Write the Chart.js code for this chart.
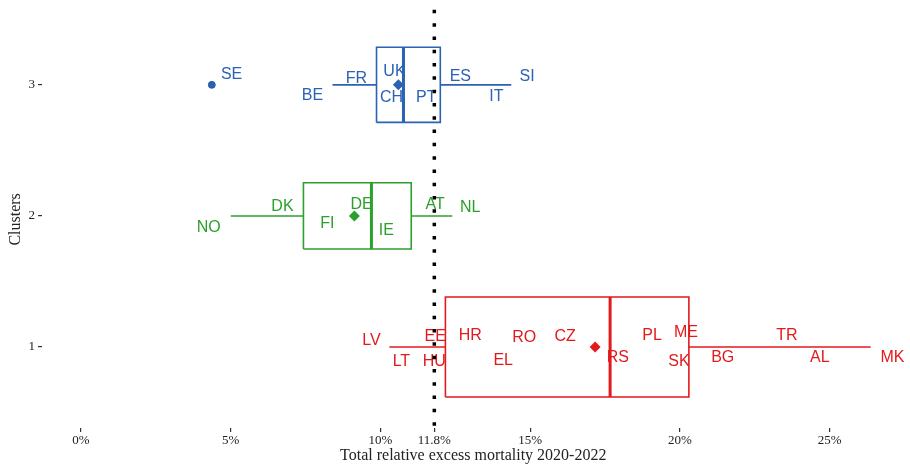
<!DOCTYPE html>
<html>
<head>
<meta charset="utf-8">
<script src="https://cdn.jsdelivr.net/npm/chart.js@4"></script>
<style>
  body { margin: 0; background: #fff; }
  #wrap { width: 910px; height: 466px; }
</style>
</head>
<body>
<div id="wrap"><canvas id="myChart"></canvas></div>
<script>
// box plot summary per cluster (values in %)
const clusters = [1, 2, 3];
const whiskerLow = [10.3, 5.0, 8.4];
const q1 = [12.17, 7.43, 9.87];
const median = [17.67, 9.7, 10.77];
const q3 = [20.3, 11.03, 12.0];
const whiskerHigh = [26.37, 12.4, 14.37];
const means = [17.17, 9.13, 10.6];
const counts = [16, 7, 9];
const clusterColors = ['#e3191c', '#2ca02c', '#2a62b4'];

// outliers
const outlierValue = [4.37];
const outlierCluster = [3];

// country labels (label position in % and cluster units)
const countries = ['SE', 'BE', 'FR', 'UK', 'CH', 'PT', 'ES', 'IT', 'SI',
  'NO', 'DK', 'FI', 'DE', 'IE', 'AT', 'NL',
  'LV', 'LT', 'EE', 'HU', 'HR', 'RO', 'EL', 'CZ', 'RS', 'PL', 'ME', 'SK', 'BG', 'TR', 'AL', 'MK'];
const countryCluster = [3, 3, 3, 3, 3, 3, 3, 3, 3,
  2, 2, 2, 2, 2, 2, 2,
  1, 1, 1, 1, 1, 1, 1, 1, 1, 1, 1, 1, 1, 1, 1, 1];
const labelX = [5.03, 7.73, 9.2, 10.47, 10.37, 11.53, 12.67, 13.87, 14.9,
  4.27, 6.73, 8.23, 9.37, 10.2, 11.83, 13.0,
  9.7, 10.7, 11.83, 11.8, 13.0, 14.8, 14.1, 16.17, 17.93, 19.07, 20.2, 19.97, 21.43, 23.57, 24.67, 27.1];
const labelDy = [0.08, -0.08, 0.05, 0.1, -0.1, -0.1, 0.06, -0.09, 0.06,
  -0.09, 0.07, -0.06, 0.09, -0.11, 0.09, 0.06,
  0.05, -0.11, 0.08, -0.11, 0.09, 0.07, -0.1, 0.08, -0.08, 0.09, 0.11, -0.11, -0.08, 0.09, -0.08, -0.08];

const refLine = 11.8;
const xTicks = [0, 5, 10, 11.8, 15, 20, 25];

const halfH = counts.map(n => 0.0955 * Math.sqrt(n));
const datasets = [];

clusters.forEach((c, i) => {
  const col = clusterColors[i];
  const h = halfH[i];
  // box
  datasets.push({
    type: 'line', data: [
      {x: q1[i], y: c - h}, {x: q3[i], y: c - h}, {x: q3[i], y: c + h},
      {x: q1[i], y: c + h}, {x: q1[i], y: c - h}],
    borderColor: col, borderWidth: 1.6, pointRadius: 0, fill: false, tension: 0
  });
  // median
  datasets.push({
    type: 'line', data: [{x: median[i], y: c - h}, {x: median[i], y: c + h}],
    borderColor: col, borderWidth: 3, pointRadius: 0
  });
  // whiskers
  datasets.push({
    type: 'line', data: [{x: whiskerLow[i], y: c}, {x: q1[i], y: c}],
    borderColor: col, borderWidth: 1.6, pointRadius: 0
  });
  datasets.push({
    type: 'line', data: [{x: q3[i], y: c}, {x: whiskerHigh[i], y: c}],
    borderColor: col, borderWidth: 1.6, pointRadius: 0
  });
  // mean
  datasets.push({
    type: 'scatter', data: [{x: means[i], y: c}],
    pointStyle: 'rectRot', pointRadius: 5.5, backgroundColor: col, borderColor: col, borderWidth: 0
  });
});

outlierValue.forEach((v, k) => {
  const i = clusters.indexOf(outlierCluster[k]);
  datasets.push({
    type: 'scatter', data: [{x: v, y: outlierCluster[k]}],
    pointStyle: 'circle', pointRadius: 3.5, backgroundColor: clusterColors[i],
    borderColor: '#1c4f9c', borderWidth: 0.8
  });
});

// reference line
datasets.push({
  type: 'line', data: [{x: refLine, y: 0.4}, {x: refLine, y: 3.65}],
  borderColor: '#000', borderWidth: 3.5, borderDash: [3.5, 9.8], borderCapStyle: 'butt',
  pointRadius: 0, clip: false
});

const labelPlugin = {
  id: 'countryLabels',
  beforeDatasetsDraw(chart) {
    const {ctx, scales} = chart;
    ctx.save();
    ctx.font = '16px "Liberation Sans", Arial, sans-serif';
    ctx.textAlign = 'center';
    ctx.textBaseline = 'middle';
    countries.forEach((name, k) => {
      const i = clusters.indexOf(countryCluster[k]);
      ctx.fillStyle = clusterColors[i];
      ctx.fillText(name, scales.x.getPixelForValue(labelX[k]),
        scales.y.getPixelForValue(countryCluster[k] + labelDy[k]));
    });
    ctx.restore();
  }
};

const serif = '"Liberation Serif", "Times New Roman", serif';

new Chart(document.getElementById('myChart'), {
  type: 'scatter',
  data: { datasets },
  options: {
    responsive: true,
    maintainAspectRatio: false,
    animation: false,
    layout: { padding: { top: 0, right: 5, left: 0, bottom: 0 } },
    plugins: { legend: { display: false }, tooltip: { enabled: false } },
    scales: {
      x: {
        type: 'linear', min: -1.3, max: 27.5,
        afterBuildTicks(scale) { scale.ticks = xTicks.map(v => ({value: v})); },
        afterFit(scale) { scale.height = 38; },
        ticks: {
          color: '#222', font: { family: serif, size: 13 }, padding: 1,
          callback: v => v + '%'
        },
        grid: { drawOnChartArea: false, drawTicks: true, tickLength: 4, color: '#333', lineWidth: 1.2 },
        border: { display: false },
        title: { display: true, text: 'Total relative excess mortality 2020-2022',
          color: '#222', font: { family: serif, size: 16 }, padding: { top: 0, bottom: 1 } }
      },
      y: {
        type: 'linear', min: 0.382, max: 3.565,
        afterBuildTicks(scale) { scale.ticks = clusters.map(v => ({value: v})); },
        afterFit(scale) { scale.width = 42; },
        ticks: { color: '#222', font: { family: serif, size: 13 }, padding: 3 },
        grid: { drawOnChartArea: false, drawTicks: true, tickLength: 4, color: '#333', lineWidth: 1.2 },
        border: { display: false },
        title: { display: true, text: 'Clusters', color: '#222',
          font: { family: serif, size: 16 }, padding: { top: 6, bottom: 0 } }
      }
    }
  },
  plugins: [labelPlugin]
});
</script>
</body>
</html>
